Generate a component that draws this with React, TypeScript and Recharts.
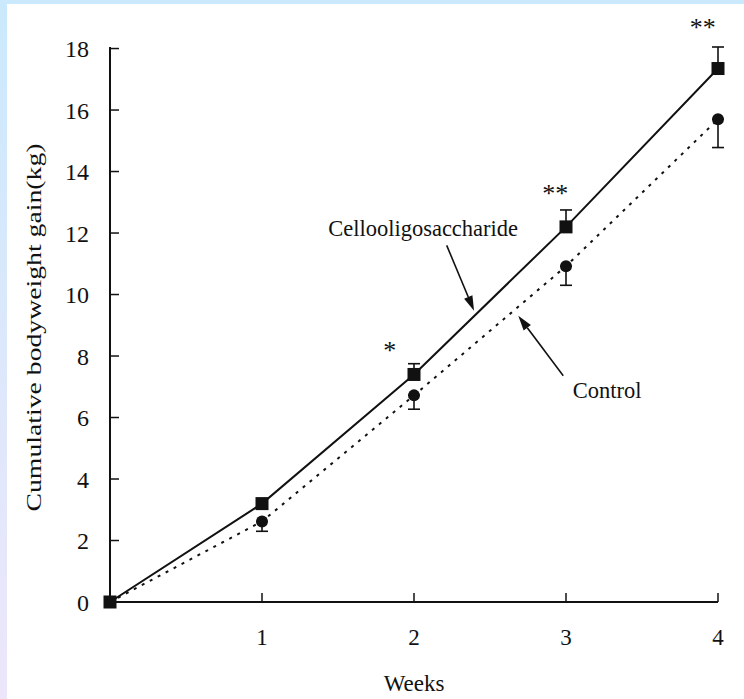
import React from 'react';
import { LineChart, Line, XAxis, YAxis, ErrorBar, ReferenceDot, ReferenceLine, Label } from 'recharts';

const weeks = [0, 1, 2, 3, 4];
const celloGain = [0, 3.2, 7.4, 12.2, 17.35];
const celloErrUp = [0, 0, 0.35, 0.55, 0.7];
const controlGain = [0, 2.62, 6.72, 10.92, 15.7];
const controlErrDown = [0, 0.32, 0.45, 0.62, 0.92];
const yTicks = [0, 2, 4, 6, 8, 10, 12, 14, 16, 18];
const xTicks = [1, 2, 3, 4];
const sigMarks = [
  { x: 1.84, y: 8.2, text: '*' },
  { x: 2.93, y: 13.3, text: '**' },
  { x: 3.9, y: 18.7, text: '**' },
];
const annotations = [
  { x: 2.06, y: 12.16, text: 'Cellooligosaccharide' },
  { x: 3.27, y: 6.88, text: 'Control' },
];
const arrows = [
  { from: [2.215, 11.6], to: [2.395, 9.47] },
  { from: [2.982, 7.36], to: [2.686, 9.31] },
];

const data = weeks.map((w, i) => ({
  week: w,
  cello: celloGain[i],
  celloErr: [0, celloErrUp[i]],
  control: controlGain[i],
  controlErr: [controlErrDown[i], 0],
}));

const FONT = '"Liberation Serif", "Times New Roman", serif';
const INK = '#111';

const SquareDot = (props: any) => {
  const { cx, cy, index } = props;
  if (cx == null || cy == null) return <g key={index} />;
  return <rect key={index} x={cx - 6.5} y={cy - 6.5} width={13} height={13} fill={INK} />;
};
const CircleDot = (props: any) => {
  const { cx, cy, index } = props;
  if (cx == null || cy == null) return <g key={index} />;
  return <circle key={index} cx={cx} cy={cy} r={6} fill={INK} />;
};

const ArrowShape = (props: any) => {
  const { x1, y1, x2, y2 } = props;
  if ([x1, y1, x2, y2].some((v) => v == null || isNaN(v))) return <g />;
  const dx = x2 - x1;
  const dy = y2 - y1;
  const len = Math.sqrt(dx * dx + dy * dy) || 1;
  const ux = dx / len;
  const uy = dy / len;
  const hl = 15;
  const hw = 4.5;
  const bx = x2 - ux * hl;
  const by = y2 - uy * hl;
  const pts = `${x2},${y2} ${bx - uy * hw},${by + ux * hw} ${bx + uy * hw},${by - ux * hw}`;
  return (
    <g>
      <line x1={x1} y1={y1} x2={bx} y2={by} stroke={INK} strokeWidth={1.6} />
      <polygon points={pts} fill={INK} />
    </g>
  );
};

export default function App() {
  return (
    <div
      style={{
        position: 'absolute',
        left: 0,
        top: 0,
        width: 744,
        height: 699,
        background: 'linear-gradient(#cbe9fc, #ede6fa)',
      }}
    >
      <div style={{ position: 'absolute', left: 7, top: 4, right: 0, bottom: 0, background: '#fff' }} />
      <div style={{ position: 'absolute', left: 0, top: 0 }}>
        <LineChart
          width={744}
          height={699}
          data={data}
          margin={{ top: 47, right: 26, bottom: 37, left: 50 }}
          style={{ fontFamily: FONT }}
        >
          <XAxis
            dataKey="week"
            type="number"
            domain={[0, 4]}
            ticks={xTicks}
            tickSize={-9}
            tickMargin={36}
            height={60}
            axisLine={{ stroke: INK, strokeWidth: 2 }}
            tickLine={{ stroke: INK, strokeWidth: 1.5 }}
            tick={{ fill: INK, fontSize: 23, fontFamily: FONT }}
          >
            <Label
              content={(p: any) => {
                const vb = p.viewBox || {};
                return (
                  <text
                    x={vb.x + vb.width / 2}
                    y={683}
                    textAnchor="middle"
                    dominantBaseline="central"
                    fontSize={23}
                    fontFamily={FONT}
                    fill={INK}
                  >
                    Weeks
                  </text>
                );
              }}
            />
          </XAxis>
          <YAxis
            type="number"
            domain={[0, 18]}
            ticks={yTicks}
            tickSize={-9}
            tickMargin={30}
            width={60}
            axisLine={{ stroke: INK, strokeWidth: 2 }}
            tickLine={{ stroke: INK, strokeWidth: 1.5 }}
            tick={{ fill: INK, fontSize: 24, fontFamily: FONT }}
          >
            <Label
              content={(p: any) => {
                const vb = p.viewBox || {};
                const cx = vb.x - 17;
                const cy = vb.y + vb.height / 2 + 3;
                return (
                  <text
                    x={cx}
                    y={cy}
                    transform={`rotate(-90 ${cx} ${cy})`}
                    textAnchor="middle"
                    dominantBaseline="central"
                    fontSize={22}
                    fontFamily={FONT}
                    fill={INK}
                    textLength={368}
                    lengthAdjust="spacingAndGlyphs"
                  >
                    Cumulative bodyweight gain(kg)
                  </text>
                );
              }}
            />
          </YAxis>
          <Line
            dataKey="control"
            stroke={INK}
            strokeWidth={2}
            strokeDasharray="3 6"
            dot={<CircleDot />}
            isAnimationActive={false}
          >
            <ErrorBar dataKey="controlErr" width={6} stroke={INK} strokeWidth={1.6} direction="y" />
          </Line>
          <Line
            dataKey="cello"
            stroke={INK}
            strokeWidth={2}
            dot={<SquareDot />}
            isAnimationActive={false}
          >
            <ErrorBar dataKey="celloErr" width={6} stroke={INK} strokeWidth={1.6} direction="y" />
          </Line>
          {arrows.map((a, i) => (
            <ReferenceLine
              key={`arr${i}`}
              segment={[
                { x: a.from[0], y: a.from[1] },
                { x: a.to[0], y: a.to[1] },
              ]}
              ifOverflow="visible"
              shape={<ArrowShape />}
            />
          ))}
          {annotations.map((a, i) => (
            <ReferenceDot
              key={`ann${i}`}
              x={a.x}
              y={a.y}
              r={0}
              fill="none"
              stroke="none"
              ifOverflow="visible"
              label={{
                value: a.text,
                position: 'center',
                fontSize: 22.5,
                fontFamily: FONT,
                fill: INK,
              }}
            />
          ))}
          {sigMarks.map((s, i) => (
            <ReferenceDot
              key={`sig${i}`}
              x={s.x}
              y={s.y}
              r={0}
              fill="none"
              stroke="none"
              ifOverflow="visible"
              label={{
                value: s.text,
                position: 'center',
                fontSize: 26,
                fontFamily: FONT,
                fill: INK,
              }}
            />
          ))}
        </LineChart>
      </div>
    </div>
  );
}
